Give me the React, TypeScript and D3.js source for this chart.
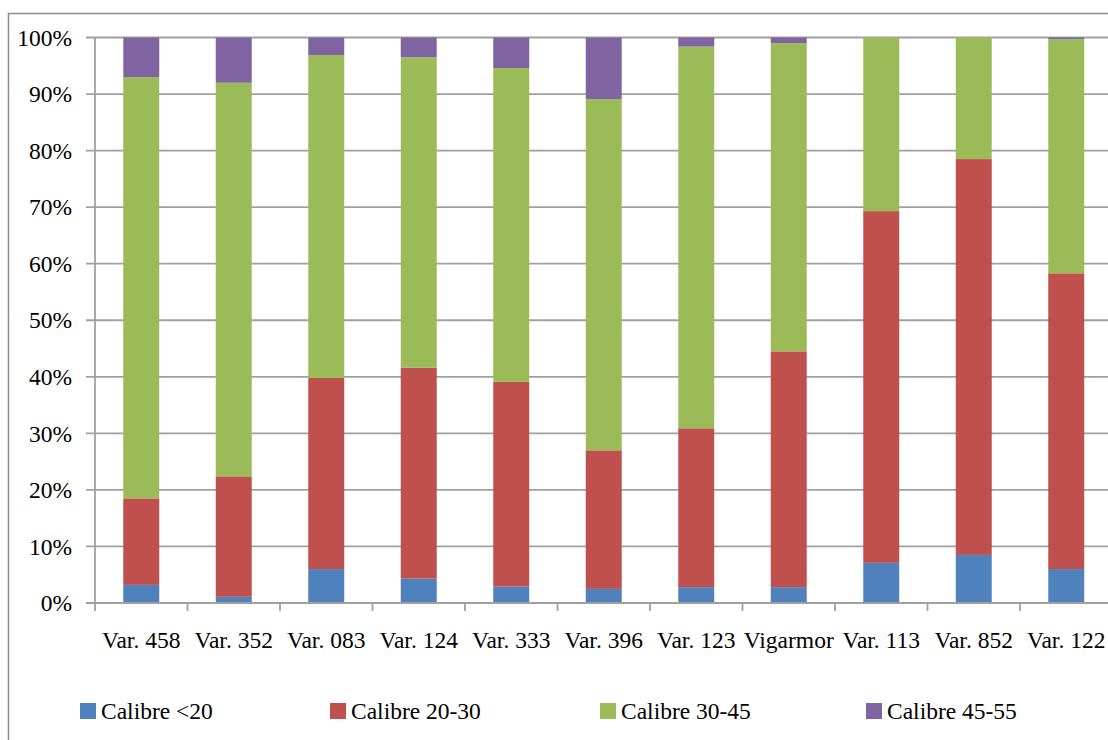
import React from "react";
import * as d3 from "d3";

const categories = [
  "Var. 458",
  "Var. 352",
  "Var. 083",
  "Var. 124",
  "Var. 333",
  "Var. 396",
  "Var. 123",
  "Vigarmor",
  "Var. 113",
  "Var. 852",
  "Var. 122",
];

const seriesNames = ["Calibre <20", "Calibre 20-30", "Calibre 30-45", "Calibre 45-55"];
const seriesColors = ["#4F81BD", "#C0504D", "#9BBB59", "#8064A2"];

const calibreLt20 = [3.2, 1.1, 6.0, 4.3, 2.9, 2.5, 2.8, 2.8, 7.1, 8.5, 6.0];
const calibre20_30 = [15.3, 21.3, 33.8, 37.3, 36.2, 24.5, 28.1, 41.7, 62.2, 70.0, 52.3];
const calibre30_45 = [74.5, 69.6, 57.1, 54.9, 55.5, 62.1, 67.5, 54.5, 30.7, 21.5, 41.4];
const calibre45_55 = [7.0, 8.0, 3.1, 3.5, 5.4, 10.9, 1.6, 1.0, 0, 0, 0.3];

const yTicks = [0, 10, 20, 30, 40, 50, 60, 70, 80, 90, 100];
const legendX = [80, 330, 600, 866];

const FONT = "Liberation Serif";
const FS = 23.5;
const AXIS = "#a0a0a0";

const App: React.FC = () => {
  const left = 95;
  const right = 1112.5;
  const top = 37.5;
  const bottom = 603;

  const x = d3
    .scaleBand<string>()
    .domain(categories)
    .range([left, right])
    .paddingInner(0.611)
    .paddingOuter(0.3055);
  const step = x.step();
  const y = d3.scaleLinear().domain([0, 100]).range([bottom, top]);

  const rows = categories.map((c, i) => ({
    cat: c,
    s0: calibreLt20[i],
    s1: calibre20_30[i],
    s2: calibre30_45[i],
    s3: calibre45_55[i],
  }));
  const layers = d3.stack<any>().keys(["s0", "s1", "s2", "s3"])(rows);

  return (
    <div style={{ position: "absolute", left: 0, top: 0 }}>
      <svg width={1108} height={740} style={{ display: "block" }}>
        {/* outer chart border */}
        <rect x={8.5} y={13.5} width={1130} height={760} fill="white" stroke="#8c8c8c" strokeWidth={1.5} />

        {/* gridlines + y labels */}
        {yTicks.map((t) => (
          <g key={t}>
            <line x1={left - 9} x2={1108} y1={y(t)} y2={y(t)} stroke={AXIS} strokeWidth={1.8} />
            <text
              x={72}
              y={y(t)}
              dy="0.35em"
              textAnchor="end"
              fontFamily={FONT}
              fontSize={FS}
              fill="#000"
            >
              {`${t}%`}
            </text>
          </g>
        ))}

        {/* stacked bars */}
        {layers.map((layer, li) => (
          <g key={li} fill={seriesColors[li]}>
            {layer.map((d: any) => (
              <rect
                key={d.data.cat}
                x={x(d.data.cat)}
                width={x.bandwidth()}
                y={y(d[1])}
                height={Math.max(0, y(d[0]) - y(d[1]))}
              />
            ))}
          </g>
        ))}

        {/* axes */}
        <line x1={left} x2={left} y1={top} y2={bottom + 8} stroke={AXIS} strokeWidth={1.8} />
        <line x1={left} x2={1108} y1={bottom} y2={bottom} stroke={AXIS} strokeWidth={1.8} />

        {categories.map((c, i) => (
          <g key={c}>
            <line
              x1={left + step * (i + 1)}
              x2={left + step * (i + 1)}
              y1={bottom}
              y2={bottom + 8}
              stroke={AXIS}
              strokeWidth={1.8}
            />
            <text
              x={(x(c) as number) + x.bandwidth() / 2}
              y={648}
              textAnchor="middle"
              fontFamily={FONT}
              fontSize={FS}
              fill="#000"
            >
              {c}
            </text>
          </g>
        ))}

        {/* legend */}
        {seriesNames.map((name, i) => (
          <g key={name} transform={`translate(${legendX[i]},703)`}>
            <rect width={16} height={16} fill={seriesColors[i]} />
            <text x={21} y={15.5} fontFamily={FONT} fontSize={FS} fill="#000">
              {name}
            </text>
          </g>
        ))}
      </svg>
    </div>
  );
};

export default App;
